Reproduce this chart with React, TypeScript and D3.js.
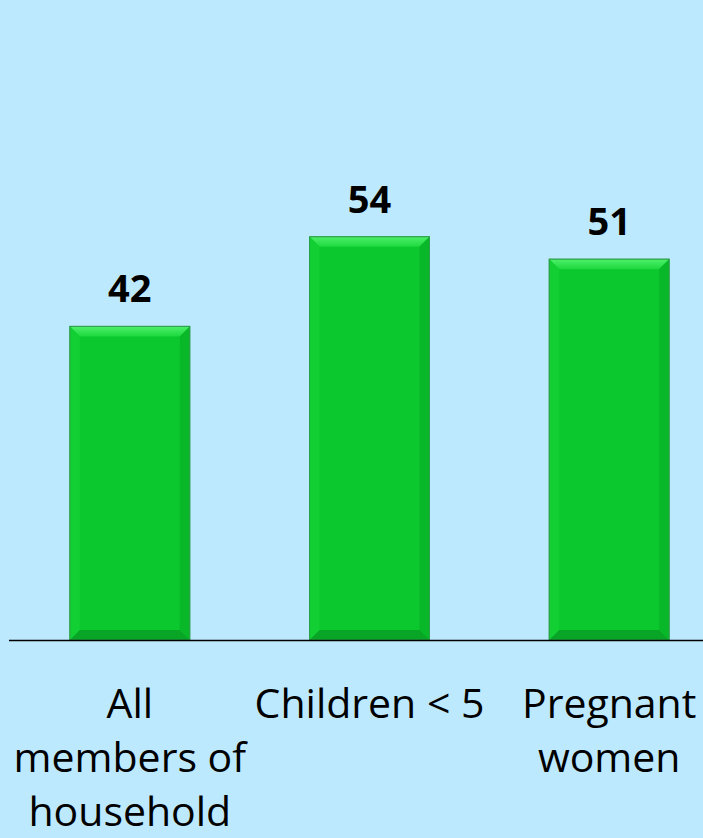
import React from "react";
import * as d3 from "d3";

const categories: string[][] = [["All", "members of", "household"], ["Children < 5", "", ""], ["Pregnant", "women", ""]];
const keys = ["all", "children", "pregnant"];
const values = [42, 54, 51];

const W = 703, H = 838;

export default function App() {
  const x = d3.scaleBand<string>().domain(keys).range([10, 729]).paddingInner(0.5).paddingOuter(0.25);
  const y = d3.scaleLinear().domain([0, 60]).range([640, 192]);
  const bw = x.bandwidth();
  const bev = 10;
  return (
    <svg width={W} height={H} style={{ position: "absolute", left: 0, top: 0, display: "block" }}>
      <defs>
        <linearGradient id="topg" x1="0" y1="0" x2="0" y2="1">
          <stop offset="0" stopColor="#4CF06A" />
          <stop offset="1" stopColor="#1ED83E" />
        </linearGradient>
      </defs>
      <rect width={W} height={H} fill="#BDE9FF" />
      {keys.map((k, i) => {
        const x0 = x(k)!;
        const x1 = x0 + bw;
        const y0 = y(values[i]);
        const y1 = y(0);
        return (
          <g key={k}>
            <rect x={x0} y={y0} width={bw} height={y1 - y0} fill="#0AC82D" stroke="#2E9E4A" strokeWidth={1} />
            <polygon points={`${x0},${y0} ${x1},${y0} ${x1 - bev},${y0 + bev} ${x0 + bev},${y0 + bev}`} fill="url(#topg)" />
            <polygon points={`${x0},${y0} ${x0 + bev},${y0 + bev} ${x0 + bev},${y1 - bev} ${x0},${y1}`} fill="#12CF33" />
            <polygon points={`${x1},${y0} ${x1 - bev},${y0 + bev} ${x1 - bev},${y1 - bev} ${x1},${y1}`} fill="#09B829" />
            <polygon points={`${x0},${y1} ${x0 + bev},${y1 - bev} ${x1 - bev},${y1 - bev} ${x1},${y1}`} fill="#08A526" />
            <rect x={x0} y={y0} width={bw} height={y1 - y0} fill="none" stroke="#2E9E4A" strokeWidth={1} />
            <text x={x0 + bw / 2} y={y0 - 24} textAnchor="middle" fontFamily="'Open Sans', sans-serif" fontWeight="bold" fontSize={38} fill="#000">{values[i]}</text>
            {categories[i].map((line, j) => line ? (
              <text key={j} x={x0 + bw / 2} y={718 + j * 54} textAnchor="middle" fontFamily="'Open Sans', sans-serif" fontSize={41} fill="#000">{line}</text>
            ) : null)}
          </g>
        );
      })}
      <line x1={9} x2={W} y1={640.5} y2={640.5} stroke="#000" strokeWidth={1.5} />
    </svg>
  );
}
